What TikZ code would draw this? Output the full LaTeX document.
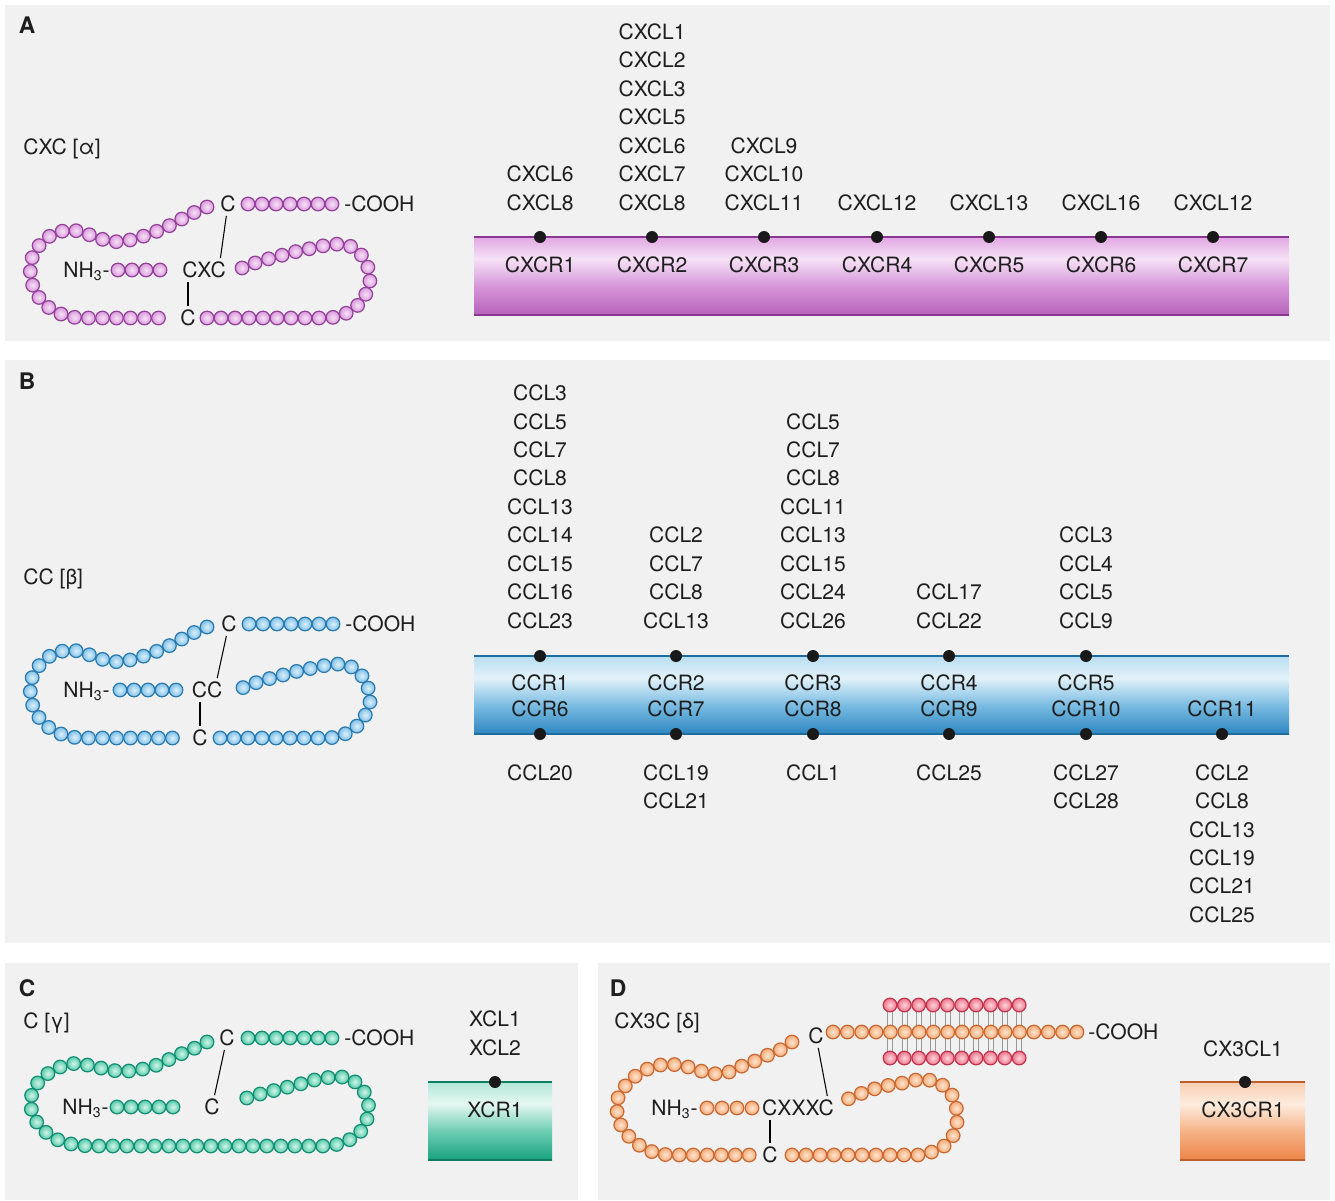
\documentclass[tikz,border=0pt]{standalone}
\usepackage{fontspec}
\setmainfont{TeX Gyre Heros}
\usetikzlibrary{decorations.markings}

\definecolor{panelbg}{HTML}{F1F1F1}
\definecolor{ink}{HTML}{1E1E1E}
% bead colours
\definecolor{purpbead}{HTML}{DA9ADC}
\definecolor{purphi}{HTML}{F7E2F7}
\definecolor{purpline}{HTML}{93429A}
\definecolor{bluebead}{HTML}{7FC1E8}
\definecolor{bluehi}{HTML}{DDF0FA}
\definecolor{blueline}{HTML}{2A7AAF}
\definecolor{greenbead}{HTML}{58CBAA}
\definecolor{greenhi}{HTML}{D2F4E9}
\definecolor{greenline}{HTML}{138E75}
\definecolor{orangebead}{HTML}{F5AB76}
\definecolor{orangehi}{HTML}{FDE5D2}
\definecolor{orangeline}{HTML}{C96833}
\definecolor{redbead}{HTML}{EE7589}
\definecolor{redhi}{HTML}{FCD6DD}
\definecolor{redline}{HTML}{C03450}
% receptor bars
\definecolor{Abot}{HTML}{B762B9}\definecolor{Amid}{HTML}{D594D7}
\definecolor{Alight}{HTML}{F6E1F6}\definecolor{Atop}{HTML}{E2A8E3}
\definecolor{Aedge}{HTML}{8B3690}
\definecolor{Bbot}{HTML}{2E87C0}\definecolor{Bmid}{HTML}{78BAE1}
\definecolor{Blight}{HTML}{E2F2FA}\definecolor{Btop}{HTML}{B8DDF1}
\definecolor{Bedge}{HTML}{1D6D9E}
\definecolor{Cbot}{HTML}{19A27F}\definecolor{Cmid}{HTML}{6ACCB0}
\definecolor{Clight}{HTML}{E5F7F1}\definecolor{Ctop}{HTML}{B2E8D8}
\definecolor{Cedge}{HTML}{0F7E61}
\definecolor{Dbot}{HTML}{EC8446}\definecolor{Dmid}{HTML}{F5B184}
\definecolor{Dlight}{HTML}{FDECDF}\definecolor{Dtop}{HTML}{F8CFB3}
\definecolor{Dedge}{HTML}{BE5E2B}

\pgfdeclareverticalshading{barA}{100bp}{color(0bp)=(Abot); color(25bp)=(Abot); color(43bp)=(Amid); color(61bp)=(Alight); color(75bp)=(Atop); color(100bp)=(Atop)}
\pgfdeclareverticalshading{barB}{100bp}{color(0bp)=(Bbot); color(25bp)=(Bbot); color(43bp)=(Bmid); color(61bp)=(Blight); color(75bp)=(Btop); color(100bp)=(Btop)}
\pgfdeclareverticalshading{barC}{100bp}{color(0bp)=(Cbot); color(25bp)=(Cbot); color(43bp)=(Cmid); color(61bp)=(Clight); color(75bp)=(Ctop); color(100bp)=(Ctop)}
\pgfdeclareverticalshading{barD}{100bp}{color(0bp)=(Dbot); color(25bp)=(Dbot); color(43bp)=(Dmid); color(61bp)=(Dlight); color(75bp)=(Dtop); color(100bp)=(Dtop)}

\tikzset{
  bead/.style={inner color=beadhi, outer color=beadfill, draw=beadline, line width=0.7pt},
  beads/.style={postaction={decorate}, decoration={markings,
      mark=between positions 0 and 1 step 0.28cm with {\pgftransformresetnontranslations
        \shadedraw[bead] (0,0) circle (0.136cm);}}},
  lbl/.style={font=\fontsize{12}{16.2}\selectfont, align=center},
  rec/.style={font=\fontsize{12}{14.7}\selectfont, align=center},
  tag/.style={font=\bfseries\fontsize{13}{15}\selectfont},
  site/.style={circle, fill=black!90, minimum size=0.24cm},
  bond/.style={line width=0.6pt, shorten <=2pt, shorten >=2pt},
}

\begin{document}
\begin{tikzpicture}[x=0.02cm, y=-0.02cm, every node/.style={inner sep=0pt, text=ink}]
  \useasboundingbox (0,0) rectangle (1335,1200);
  \fill[white] (0,0) rectangle (1335,1200);

  % panel backgrounds
  \fill[panelbg] (5,5) rectangle (1330,341);
  \fill[panelbg] (5,360) rectangle (1330,943);
  \fill[panelbg] (5,963) rectangle (578,1200);
  \fill[panelbg] (598,963) rectangle (1330,1200);

  \node[tag] (tagA) at (27,25) {A};
  \node[tag] (tagB) at (27,381) {B};
  \node[tag] (tagC) at (27,988) {C};
  \node[tag] (tagD) at (618,988) {D};

  %%% A: CXC chemokines
  \begin{scope}
    \colorlet{beadfill}{purpbead}\colorlet{beadhi}{purphi}\colorlet{beadline}{purpline}
    \node[lbl, anchor=base west] (famA) at (23,154) {CXC [α]};
    \path[beads] plot coordinates {(207,207) (193,213) (180,220) (165,228) (150,234) (135,239)
      (120,242) (108,241) (95,237) (80,231) (67,230) (55,233) (45,239) (37,248) (32,258) (30,268)
      (31,279) (34,290) (40,299) (48,307) (58,313) (70,317) (85,318) (165,318)};
    \path[beads] plot coordinates {(207,318) (330,318) (343,315) (354,309) (362,301) (367,292)
      (370,282) (369,271) (366,261) (359,252) (350,246) (339,244) (327,245) (313,248) (298,251)
      (283,255) (268,259) (255,263) (242,268)};
    \foreach \x in {248,262,...,332} \shadedraw[bead] (\x,204) circle (0.136cm);
    \foreach \x in {118,132,...,160} \shadedraw[bead] (\x,270) circle (0.136cm);
    \node[lbl] (ctopA) at (228,204) {C};
    \node[lbl] (cxcA) at (204,270) {CXC};
    \node[lbl] (cbotA) at (188,318) {C};
    \node[lbl, anchor=base west] (coohA) at (344,211) {-COOH};
    \node[lbl, anchor=base east] (nhA) at (110,277) {NH\textsubscript{3}-};
    \draw[bond] (ctopA) -- ([xshift=-3.5pt]cxcA.north east);
    \draw[bond] (cbotA) -- (cbotA |- cxcA.south);
  \end{scope}

  % CXC receptors
  \shade[shading=barA] (474,237) rectangle (1289,315);
  \draw[Aedge, line width=1.2pt] (474,237) -- (1289,237);
  \draw[Aedge, line width=1.2pt] (474,315) -- (1289,315);
  \foreach \x/\r [count=\i] in {540/CXCR1, 652/CXCR2, 764/CXCR3, 877/CXCR4, 989/CXCR5, 1101/CXCR6, 1213/CXCR7} {
    \node[site] (sA\i) at (\x,237) {};
    \node[rec] (rA\i) at (\x,265) {\r};
  }
  \node[lbl, anchor=south] (lA1) at (540,211) {CXCL6\\CXCL8};
  \node[lbl, anchor=south] (lA2) at (652,211) {CXCL1\\CXCL2\\CXCL3\\CXCL5\\CXCL6\\CXCL7\\CXCL8};
  \node[lbl, anchor=south] (lA3) at (764,211) {CXCL9\\CXCL10\\CXCL11};
  \node[lbl, anchor=south] (lA4) at (877,211) {CXCL12};
  \node[lbl, anchor=south] (lA5) at (989,211) {CXCL13};
  \node[lbl, anchor=south] (lA6) at (1101,211) {CXCL16};
  \node[lbl, anchor=south] (lA7) at (1213,211) {CXCL12};

  %%% B: CC chemokines
  \node[lbl, anchor=base west] (famB) at (23,584) {CC [β]};
  \begin{scope}[shift={(0,420)}]
    \colorlet{beadfill}{bluebead}\colorlet{beadhi}{bluehi}\colorlet{beadline}{blueline}
    \path[beads] plot coordinates {(207,207) (193,213) (180,220) (165,228) (150,234) (135,239)
      (120,242) (108,241) (95,237) (80,231) (67,230) (55,233) (45,239) (37,248) (32,258) (30,268)
      (31,279) (34,290) (40,299) (48,307) (58,313) (70,317) (85,318) (177,318)};
    \path[beads] plot coordinates {(220,318) (330,318) (343,315) (354,309) (362,301) (367,292)
      (370,282) (369,271) (366,261) (359,252) (350,246) (339,244) (327,245) (313,248) (298,251)
      (283,255) (268,259) (255,263) (242,268)};
    \foreach \x in {249,263,...,333} \shadedraw[bead] (\x,204) circle (0.136cm);
    \foreach \x in {120,134,...,176} \shadedraw[bead] (\x,270) circle (0.136cm);
    \node[lbl] (ctopB) at (229,204) {C};
    \node[lbl] (ccB) at (207,270) {CC};
    \node[lbl] (cbotB) at (200,318) {C};
    \node[lbl, anchor=base west] (coohB) at (345,211) {-COOH};
    \node[lbl, anchor=base east] (nhB) at (110,277) {NH\textsubscript{3}-};
    \draw[bond] (ctopB) -- ([xshift=-3.5pt]ccB.north east);
    \draw[bond] (cbotB) -- (cbotB |- ccB.south);
  \end{scope}

  % CC receptors
  \shade[shading=barB] (474,656) rectangle (1289,734);
  \draw[Bedge, line width=1.2pt] (474,656) -- (1289,656);
  \draw[Bedge, line width=1.2pt] (474,734) -- (1289,734);
  \foreach \x [count=\i] in {540,676,813,949,1086} \node[site] (sB\i) at (\x,656) {};
  \foreach \x [count=\i] in {540,676,813,949,1086,1222} \node[site] (tB\i) at (\x,734) {};
  \node[rec] (rB1) at (540,696) {CCR1\\CCR6};
  \node[rec] (rB2) at (676,696) {CCR2\\CCR7};
  \node[rec] (rB3) at (813,696) {CCR3\\CCR8};
  \node[rec] (rB4) at (949,696) {CCR4\\CCR9};
  \node[rec] (rB5) at (1086,696) {CCR5\\CCR10};
  \node[rec] (rB6) at (1222,709) {CCR11};
  \node[lbl, anchor=south] (lB1) at (540,629) {CCL3\\CCL5\\CCL7\\CCL8\\CCL13\\CCL14\\CCL15\\CCL16\\CCL23};
  \node[lbl, anchor=south] (lB2) at (676,629) {CCL2\\CCL7\\CCL8\\CCL13};
  \node[lbl, anchor=south] (lB3) at (813,629) {CCL5\\CCL7\\CCL8\\CCL11\\CCL13\\CCL15\\CCL24\\CCL26};
  \node[lbl, anchor=south] (lB4) at (949,629) {CCL17\\CCL22};
  \node[lbl, anchor=south] (lB5) at (1086,629) {CCL3\\CCL4\\CCL5\\CCL9};
  \node[lbl, anchor=north] (mB1) at (540,764) {CCL20};
  \node[lbl, anchor=north] (mB2) at (676,764) {CCL19\\CCL21};
  \node[lbl, anchor=north] (mB3) at (813,764) {CCL1};
  \node[lbl, anchor=north] (mB4) at (949,764) {CCL25};
  \node[lbl, anchor=north] (mB5) at (1086,764) {CCL27\\CCL28};
  \node[lbl, anchor=north] (mB6) at (1222,764) {CCL2\\CCL8\\CCL13\\CCL19\\CCL21\\CCL25};

  %%% C: C chemokines
  \begin{scope}
    \colorlet{beadfill}{greenbead}\colorlet{beadhi}{greenhi}\colorlet{beadline}{greenline}
    \node[lbl, anchor=base west] (famC) at (23,1028) {C [γ]};
    \path[beads] plot coordinates {(207,1042) (195,1048) (183,1053) (170,1059) (157,1065)
      (143,1069) (130,1071) (117,1071) (105,1069) (92,1066) (77,1063) (65,1065) (53,1070)
      (43,1077) (35,1086) (31,1097) (31,1108) (34,1118) (40,1127) (49,1135) (60,1141) (75,1145)
      (90,1146) (330,1146) (343,1143) (355,1137) (363,1129) (367,1119) (369,1108) (367,1097)
      (362,1088) (354,1081) (344,1077) (332,1077) (318,1079) (300,1084) (280,1089) (260,1094)
      (240,1100)};
    \foreach \x in {248,262,...,332} \shadedraw[bead] (\x,1038) circle (0.136cm);
    \foreach \x in {117,131,...,173} \shadedraw[bead] (\x,1107) circle (0.136cm);
    \node[lbl] (ctopC) at (227,1038) {C};
    \node[lbl] (cmidC) at (212,1107) {C};
    \node[lbl, anchor=base west] (coohC) at (344,1045) {-COOH};
    \node[lbl, anchor=base east] (nhC) at (109,1114) {NH\textsubscript{3}-};
    \draw[bond] (ctopC) -- (cmidC);
  \end{scope}

  % XCR1
  \shade[shading=barC] (428,1082) rectangle (552,1160);
  \draw[Cedge, line width=1.2pt] (428,1082) -- (552,1082);
  \draw[Cedge, line width=1.2pt] (428,1160) -- (552,1160);
  \node[site] (sC1) at (495,1082) {};
  \node[rec] (rC1) at (495,1110) {XCR1};
  \node[lbl, anchor=south] (lC1) at (495,1056) {XCL1\\XCL2};

  %%% D: CX3C chemokine
  \node[lbl, anchor=base west] (famD) at (614,1028) {CX3C [δ]};
  % mucin stalk: linker lines first, beads on top
  \foreach \x in {890,904.35,...,1020} {
    \draw[gray!80, line width=0.4pt] (\x-2.5,1005) -- (\x-2.5,1058);
    \draw[gray!80, line width=0.4pt] (\x+2.5,1005) -- (\x+2.5,1058);
  }
  \begin{scope}
    \colorlet{beadfill}{orangebead}\colorlet{beadhi}{orangehi}\colorlet{beadline}{orangeline}
    \path[beads] plot coordinates {(792,1042) (780,1050) (768,1055) (755,1061) (742,1066)
      (729,1072) (717,1074) (704,1072) (692,1068) (680,1065) (667,1064) (654,1066) (641,1072)
      (630,1080) (622,1090) (617,1100) (617,1111) (619,1122) (625,1132) (633,1141) (645,1149)
      (658,1154) (672,1155) (754,1155)};
    \path[beads] plot coordinates {(792,1155) (922,1155) (935,1151) (946,1145) (953,1136)
      (957,1124) (957,1112) (955,1101) (950,1091) (941,1084) (929,1080) (916,1080) (903,1083)
      (890,1085) (877,1088) (865,1092) (852,1097) (840,1103)};
    \foreach \x in {833,847.35,...,1080} \shadedraw[bead] (\x,1032) circle (0.136cm);
    \foreach \x in {707,722,737,752} \shadedraw[bead] (\x,1108) circle (0.136cm);
    \colorlet{beadfill}{redbead}\colorlet{beadhi}{redhi}\colorlet{beadline}{redline}
    \foreach \x in {890,904.35,...,1020} {
      \shadedraw[bead] (\x,1005) circle (0.136cm);
      \shadedraw[bead] (\x,1058) circle (0.136cm);
    }
  \end{scope}
  \node[lbl] (ctopD) at (816,1036) {C};
  \node[lbl] (cxxxcD) at (798,1108) {CXXXC};
  \node[lbl] (cbotD) at (770,1155) {C};
  \node[lbl, anchor=base west] (coohD) at (1088,1039) {-COOH};
  \node[lbl, anchor=base east] (nhD) at (698,1115) {NH\textsubscript{3}-};
  \draw[bond] (ctopD) -- ([xshift=-3.5pt]cxxxcD.north east);
  \draw[bond] (cbotD) -- (cbotD |- cxxxcD.south);

  % CX3CR1
  \shade[shading=barD] (1180,1082) rectangle (1305,1160);
  \draw[Dedge, line width=1.2pt] (1180,1082) -- (1305,1082);
  \draw[Dedge, line width=1.2pt] (1180,1160) -- (1305,1160);
  \node[site] (sD1) at (1245,1082) {};
  \node[rec] (rD1) at (1243,1110) {CX3CR1};
  \node[lbl] (lD1) at (1243,1049) {CX3CL1};
\end{tikzpicture}
\end{document}
